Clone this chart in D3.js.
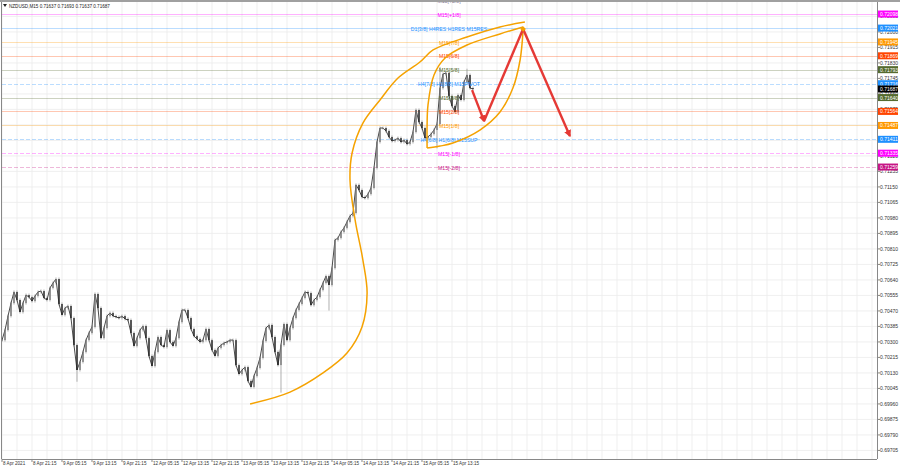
<!DOCTYPE html>
<html><head><meta charset="utf-8">
<script src="https://cdn.jsdelivr.net/npm/d3@7"></script>
<style>
html,body{margin:0;padding:0;background:#fff;}
svg{display:block;font-family:"Liberation Sans",Arial,sans-serif;}
</style></head>
<body><svg id="c" width="900" height="468"></svg>
<script>
// ---- data ----
const symbolTitle = "NZDUSD,M15  0.71637 0.71693 0.71637 0.71687";
const closes = [0.70310,0.70365,0.70442,0.70513,0.70574,0.70530,0.70464,0.70513,0.70557,0.70546,
0.70524,0.70552,0.70574,0.70579,0.70541,0.70530,0.70596,0.70623,0.70645,0.70508,
0.70448,0.70486,0.70497,0.70431,0.70283,0.70146,0.70190,0.70245,0.70310,0.70349,
0.70382,0.70563,0.70486,0.70321,0.70376,0.70442,0.70459,0.70442,0.70437,0.70431,
0.70442,0.70426,0.70420,0.70349,0.70278,0.70321,0.70365,0.70387,0.70321,0.70223,
0.70168,0.70245,0.70327,0.70283,0.70272,0.70365,0.70300,0.70278,0.70321,0.70409,
0.70475,0.70475,0.70431,0.70371,0.70332,0.70316,0.70300,0.70310,0.70371,0.70310,
0.70256,0.70223,0.70267,0.70283,0.70294,0.70300,0.70310,0.70310,0.70173,0.70124,
0.70146,0.70162,0.70086,0.70053,0.70113,0.70157,0.70212,0.70305,0.70376,0.70393,
0.70327,0.70245,0.70173,0.70283,0.70398,0.70310,0.70376,0.70431,0.70475,0.70508,
0.70541,0.70574,0.70568,0.70502,0.70530,0.70546,0.70585,0.70623,0.70661,0.70612,
0.70705,0.70859,0.70870,0.70903,0.70925,0.70958,0.70991,0.71007,0.71161,0.71133,
0.71095,0.71089,0.71111,0.71144,0.71254,0.71396,0.71473,0.71473,0.71457,0.71424,
0.71402,0.71407,0.71418,0.71396,0.71407,0.71385,0.71396,0.71451,0.71572,0.71506,
0.71473,0.71418,0.71424,0.71440,0.71462,0.71495,0.71692,0.71769,0.71775,0.71649,
0.71594,0.71561,0.71654,0.71627,0.71725,0.71764,0.71692,0.71687];
const lowSpikes = [[25,0.70090],[93,0.70030],[109,0.70480],[145,0.71370]];
const highSpikes = [[146,0.71800],[155,0.71790]];

const priceTicks = [0.72085,0.72000,0.71915,0.71830,0.71745,0.71660,0.71575,0.71490,0.71405,0.71320,
0.71235,0.71150,0.71065,0.70980,0.70895,0.70810,0.70725,0.70640,0.70555,0.70470,0.70385,
0.70300,0.70215,0.70130,0.70045,0.69960,0.69875,0.69790,0.69705];
const dateLabels = ["8 Apr 2021","8 Apr 21:15","9 Apr 05:15","9 Apr 13:15","9 Apr 21:15","12 Apr 05:15",
"12 Apr 13:15","12 Apr 21:15","13 Apr 05:15","13 Apr 13:15","13 Apr 21:15","14 Apr 05:15",
"14 Apr 13:15","14 Apr 21:15","15 Apr 05:15","15 Apr 13:15"];

const levelNames = ["M15[+2/8]","M15[+1/8]","D1[3/8] H4RES H1RES M15RES","M15[7/8]","M15[6/8]","M15[5/8]",
"H4[7/8] H1[8/8] M15PIVOT","M15[3/8]","M15[2/8]","M15[1/8]","H4[6/8] H1[6/8] M15SUP","M15[-1/8]","M15[-2/8]"];
const levelValues = [0.72174,0.72098,0.72021,0.71945,0.71869,0.71793,0.71716,0.71640,0.71564,0.71487,0.71411,0.71335,0.71259];
const levelColors = ["#8a7f99","#ff00ff","#1e90ff","#ff9900","#ff4500","#556b2f","#1e90ff","#556b2f","#ff4500","#ff9900","#1e90ff","#ff00ff","#c71585"];
const levelDash = ["","","","","","","4,2","","","","4,2","4,2","4,2"];
const currentPrice = 0.71687;

// drawn annotation paths: [bar index, price]
const sCurve = [[82.7,0.69960],[96,0.70025],[107,0.70130],[115,0.70239],[120,0.70382],[121.7,0.70568],
[120.3,0.70749],[117.7,0.70969],[116,0.71188],[116.7,0.71336],[120.3,0.71500],[126,0.71627],
[132,0.71747],[139.3,0.71835],[143.7,0.71901],[155,0.71972],[166,0.72027],[174.3,0.72054]];
const lensUpper = [[141.7,0.71363],[141.7,0.71490],[142,0.71599],[144,0.71764],[147.7,0.71857],[155,0.71928],[166,0.71989],[173.7,0.72027]];
const lensLower = [[141.7,0.71363],[146,0.71374],[150.3,0.71391],[159.3,0.71462],[166,0.71561],[170.3,0.71692],[172.7,0.71846],[173.7,0.72011]];
const projection = [[156.7,0.71681],[160.7,0.71511],[173.7,0.72016],[189.3,0.71429]];

// ---- layout ----
const L=2, R=877, T=2, B=459;
const svg = d3.select("#c");
const x = d3.scaleLinear().domain([0,291.67]).range([L,R]);
const y = d3.scaleLinear().domain([0.72175,0.69658]).range([0,B]);

const defs = svg.append("defs");
defs.append("clipPath").attr("id","plot").append("rect").attr("x",L).attr("y",T).attr("width",R-L).attr("height",B-T);
defs.append("marker").attr("id","arr").attr("viewBox","0 0 10 10").attr("refX",8).attr("refY",5)
  .attr("markerWidth",3).attr("markerHeight",3).attr("orient","auto")
  .append("path").attr("d","M0,0L10,5L0,10z").attr("fill","#e53935");

const plot = svg.append("g").attr("clip-path","url(#plot)");

// grid
const gridIdx = d3.range(0,292,5);
plot.selectAll(".vg").data(gridIdx).join("line")
  .attr("x1",d=>x(d)).attr("x2",d=>x(d)).attr("y1",T).attr("y2",B)
  .attr("stroke","#ebebeb").attr("stroke-width",0.8);
plot.selectAll(".hg").data(priceTicks).join("line")
  .attr("x1",L).attr("x2",R).attr("y1",d=>y(d)).attr("y2",d=>y(d))
  .attr("stroke","#ebebeb").attr("stroke-width",0.8);

// level lines
plot.selectAll(".lv").data(levelValues).join("line")
  .attr("x1",L).attr("x2",R).attr("y1",d=>Math.round(y(d))+0.5).attr("y2",d=>Math.round(y(d))+0.5)
  .attr("stroke",(d,i)=>levelColors[i]).attr("stroke-opacity",0.3).attr("stroke-width",1)
  .attr("stroke-dasharray",(d,i)=>levelDash[i]);

// candles
const bars = closes.map((c,i)=>{
  const o = i===0 ? c : closes[i-1];
  let hi = Math.max(o,c), lo = Math.min(o,c);
  lowSpikes.forEach(s=>{ if(s[0]===i) lo=Math.min(lo,s[1]); });
  highSpikes.forEach(s=>{ if(s[0]===i) hi=Math.max(hi,s[1]); });
  return {i,o,c,hi,lo};
});
const cg = plot.append("g");
cg.selectAll("line").data(bars).join("line")
  .attr("x1",d=>x(d.i)).attr("x2",d=>x(d.i)).attr("y1",d=>y(d.hi)-1.5).attr("y2",d=>y(d.lo)+1.5)
  .attr("stroke","#9a9a9a").attr("stroke-width",0.8);
cg.append("path").datum(bars)
  .attr("d",d3.line().x(d=>x(d.i)).y(d=>y(d.c)))
  .attr("fill","none").attr("stroke","#4a4a4a").attr("stroke-width",1);
cg.selectAll("rect").data(bars).join("rect")
  .attr("x",d=>x(d.i)-0.7).attr("width",1.4)
  .attr("y",d=>y(Math.max(d.o,d.c))).attr("height",d=>Math.max(1,y(Math.min(d.o,d.c))-y(Math.max(d.o,d.c))))
  .attr("fill",d=>d.c>=d.o?"#777":"#222");

// level labels
plot.selectAll(".ll").data(levelValues).join("text")
  .attr("x",449).attr("y",d=>y(d)+2.6).attr("text-anchor","middle")
  .attr("font-size",5.2).attr("fill",(d,i)=>levelColors[i]).text((d,i)=>levelNames[i]);

// orange curves
const line = d3.line().x(d=>x(d[0])).y(d=>y(d[1])).curve(d3.curveCatmullRom.alpha(0.5));
[sCurve,lensUpper,lensLower].forEach(p=>{
  plot.append("path").attr("d",line(p)).attr("fill","none").attr("stroke","#f5a200").attr("stroke-width",1.5);
});
// projection zigzag
for(let k=0;k<projection.length-1;k++){
  plot.append("line").attr("x1",x(projection[k][0])).attr("y1",y(projection[k][1]))
    .attr("x2",x(projection[k+1][0])).attr("y2",y(projection[k+1][1]))
    .attr("stroke","#e53935").attr("stroke-width",2.4)
    .attr("marker-end", k!==1 ? "url(#arr)" : null);
}
plot.append("rect").attr("x",x(projection[2][0])-2).attr("y",y(projection[2][1])-2).attr("width",4).attr("height",4)
  .attr("fill","#f5a200").attr("transform",`rotate(45,${x(projection[2][0])},${y(projection[2][1])})`);

// frame
svg.append("line").attr("x1",0).attr("x2",900).attr("y1",1).attr("y2",1).attr("stroke","#a0a0a0").attr("stroke-width",2);
svg.append("line").attr("x1",L-0.5).attr("x2",L-0.5).attr("y1",T).attr("y2",B).attr("stroke","#888").attr("stroke-width",1);
svg.append("line").attr("x1",R+0.5).attr("x2",R+0.5).attr("y1",T).attr("y2",B).attr("stroke","#888").attr("stroke-width",1);
svg.append("line").attr("x1",L).attr("x2",R).attr("y1",B+0.5).attr("y2",B+0.5).attr("stroke","#888").attr("stroke-width",1);

// right axis ticks
const ra = svg.append("g");
ra.selectAll("line").data(priceTicks).join("line")
  .attr("x1",R).attr("x2",R+3).attr("y1",d=>y(d)).attr("y2",d=>y(d)).attr("stroke","#888");
ra.selectAll("text").data(priceTicks).join("text")
  .attr("x",880).attr("y",d=>y(d)+2).attr("font-size",5).attr("fill","#333").text(d=>d.toFixed(5));

// right axis level boxes
const boxVals = levelValues.slice(1).concat([currentPrice]);
const boxCols = levelColors.slice(1).concat(["#000"]);
const bg = svg.append("g");
boxVals.forEach((v,i)=>{
  const g = bg.append("g").attr("transform",`translate(878,${y(v)})`);
  g.append("rect").attr("x",0).attr("y",-3.5).attr("width",20).attr("height",7).attr("fill",boxCols[i]);
  g.append("text").attr("x",2).attr("y",2).attr("font-size",5).attr("fill","#fff").text(v.toFixed(5));
});

// bottom axis
const ba = svg.append("g");
ba.selectAll("line").data(dateLabels).join("line")
  .attr("x1",(d,i)=>x(i*10)).attr("x2",(d,i)=>x(i*10)).attr("y1",B).attr("y2",B+3).attr("stroke","#888");
ba.selectAll("text").data(dateLabels).join("text")
  .attr("x",(d,i)=>x(i*10)+1).attr("y",465).attr("font-size",4.6).attr("fill","#333").text(d=>d);

// header
svg.append("path").attr("d","M3,4L7,4L5,7z").attr("fill","#222");
svg.append("text").attr("x",9).attr("y",7.5).attr("font-size",4.6).attr("fill","#222").text(symbolTitle);
</script></body></html>
